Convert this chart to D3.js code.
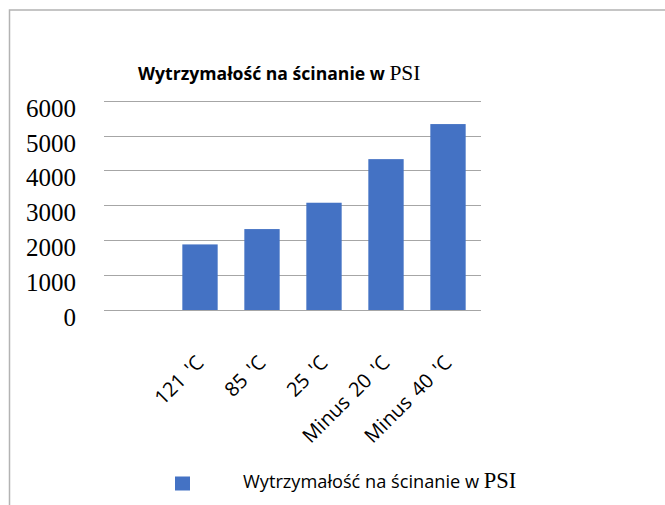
<!DOCTYPE html>
<html><head><meta charset="utf-8">
<script src="https://cdn.jsdelivr.net/npm/d3@7"></script>
<style>html,body{margin:0;padding:0;background:#fff;}svg{display:block;}</style>
</head><body>
<div id="chart"></div>
<script>
const categories = ["", "121 'C", "85 'C", "25 'C", "Minus 20 'C", "Minus 40 'C"];
const values = [null, 1880, 2320, 3075, 4325, 5330];
const yTicks = [0, 1000, 2000, 3000, 4000, 5000, 6000];
const titleMain = "Wytrzymałość na ścinanie w ";
const titleUnit = "PSI";
const seriesName = "Wytrzymałość na ścinanie w ";

const W = 665, H = 505;
const svg = d3.select("#chart").append("svg").attr("width", W).attr("height", H);
svg.append("rect").attr("width", W).attr("height", H).attr("fill", "#fff");

// border (left + top only, cropped)
svg.append("path").attr("d", `M9.5,${H} V10 H${W}`).attr("fill", "none")
  .attr("stroke", "#b3b3b3").attr("stroke-width", 1.5);

const y = d3.scaleLinear().domain([0, 6000]).range([310, 100.7]);
const x = d3.scaleBand().domain(categories).range([107, 479]).paddingInner(0.43).paddingOuter(0.215);

// gridlines
svg.append("g").selectAll("line").data(yTicks).join("line")
  .attr("x1", 104).attr("x2", 481)
  .attr("y1", d => Math.round(y(d)) + 0.5).attr("y2", d => Math.round(y(d)) + 0.5)
  .attr("stroke", "#a6a6a6").attr("stroke-width", 1);

// y labels
svg.append("g").selectAll("text").data(yTicks).join("text")
  .attr("x", 76).attr("y", d => y(d) + 16)
  .attr("text-anchor", "end")
  .attr("font-family", "'Liberation Serif', 'Times New Roman', serif")
  .attr("font-size", 25).attr("fill", "#000")
  .text(d => d);

// bars
svg.append("g").selectAll("rect").data(categories.map((c, i) => ({c, v: values[i]})).filter(d => d.v != null))
  .join("rect")
  .attr("x", d => x(d.c)).attr("width", x.bandwidth())
  .attr("y", d => y(d.v)).attr("height", d => y(0) - y(d.v))
  .attr("fill", "#4472C4");

// x labels
svg.append("g").selectAll("text").data(categories.filter(c => c !== "")).join("text")
  .attr("transform", d => `translate(${x(d) + x.bandwidth() / 2 + 5},${364}) rotate(-45)`)
  .attr("text-anchor", "end")
  .attr("font-family", "'Open Sans', sans-serif")
  .attr("font-size", 20).attr("word-spacing", 3).attr("fill", "#000")
  .text(d => d);

// title
const t = svg.append("text").attr("x", 138).attr("y", 80).attr("fill", "#000");
t.append("tspan").attr("font-family", "'Open Sans', sans-serif").attr("font-weight", "bold")
  .attr("font-size", 17.6).text(titleMain);
t.append("tspan").attr("font-family", "'Liberation Serif', serif").attr("font-size", 21.5).text(titleUnit);

// legend
svg.append("rect").attr("x", 175).attr("y", 476.5).attr("width", 15).attr("height", 14).attr("fill", "#4472C4");
const lt = svg.append("text").attr("x", 243).attr("y", 488).attr("fill", "#000");
lt.append("tspan").attr("font-family", "'Open Sans', sans-serif").attr("font-size", 18.2).text(seriesName);
lt.append("tspan").attr("font-family", "'Liberation Serif', serif").attr("font-size", 22.5).text(titleUnit);
</script>
</body></html>
